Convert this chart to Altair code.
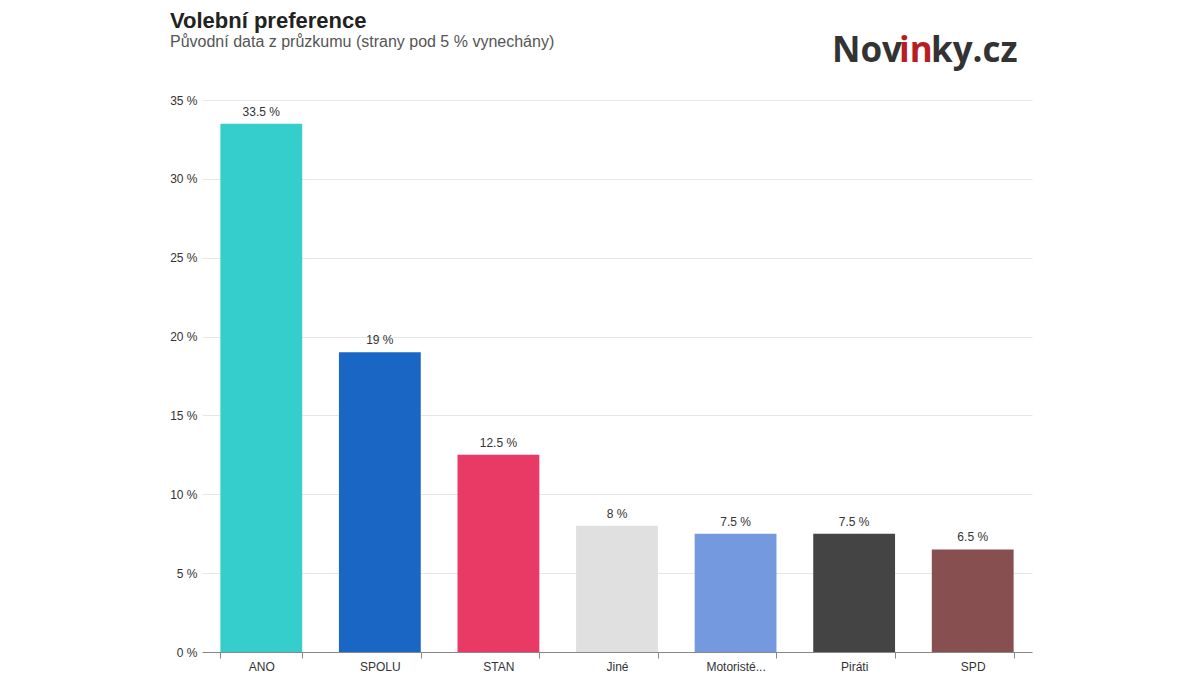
import altair as alt
import pandas as pd

parties = ["ANO", "SPOLU", "STAN", "Jiné", "Motoristé...", "Piráti", "SPD"]
values = [33.5, 19, 12.5, 8, 7.5, 7.5, 6.5]
colors = ["#36CDCD", "#1A66C4", "#E83A65", "#E0E0E0", "#7599DF", "#444444", "#874F4F"]
labels = ["33.5 %", "19 %", "12.5 %", "8 %", "7.5 %", "7.5 %", "6.5 %"]

title_text = "Volební preference"
subtitle_text = "Původní data z průzkumu (strany pod 5 % vynechány)"

df = pd.DataFrame({"party": parties, "value": values, "label": labels})

FONT = "Liberation Sans"

x = alt.X("party:N", sort=parties, title=None,
          scale=alt.Scale(paddingInner=0.31, paddingOuter=0.155),
          axis=alt.Axis(labelAngle=0, labelFont=FONT, labelFontSize=12, labelColor="#333333",
                        domainColor="#888888", tickColor="#888888", tickBand="extent",
                        tickSize=6, labelPadding=3, grid=False))
y = alt.Y("value:Q", title=None,
          scale=alt.Scale(domain=[0, 35]),
          axis=alt.Axis(values=[0, 5, 10, 15, 20, 25, 30, 35], labelExpr="datum.value + ' %'",
                        labelFont=FONT, labelFontSize=12, labelColor="#333333",
                        domain=False, ticks=False, labelPadding=5,
                        gridColor="#E6E6E6", gridWidth=1))

bars = alt.Chart(df).mark_bar().encode(
    x=x, y=y,
    color=alt.Color("party:N", scale=alt.Scale(domain=parties, range=colors), legend=None),
)
text = alt.Chart(df).mark_text(dy=-5, font=FONT, fontSize=12, color="#333333", baseline="bottom").encode(
    x=alt.X("party:N", sort=parties), y="value:Q", text="label:N"
)

def txt(t, xpos, ypos, col, font, size, weight="normal"):
    return alt.Chart(pd.DataFrame({"t": [t]})).mark_text(
        font=font, fontWeight=weight, fontSize=size, align="left", baseline="alphabetic", color=col
    ).encode(x=alt.value(xpos), y=alt.value(ypos), text="t:N")

chart = alt.layer(
    bars, text,
    txt(title_text, -32, -72, "#222222", FONT, 22, "bold"),
    txt(subtitle_text, -32, -53, "#555555", FONT, 16),
    txt("Nov", 630, -38, "#333333", "Open Sans", 35, "bold"),
    txt("in", 697, -38, "#B51F24", "Open Sans", 35, "bold"),
    txt("ky.cz", 729, -38, "#333333", "Open Sans", 35, "bold"),
).properties(
    width=830, height=552,
    autosize=alt.AutoSizeParams(type="none"),
    padding={"left": 194, "top": 92, "right": 160, "bottom": 22},
).configure_view(stroke=None)

chart.save("out.html", embed_options={"renderer": "svg", "actions": False})
